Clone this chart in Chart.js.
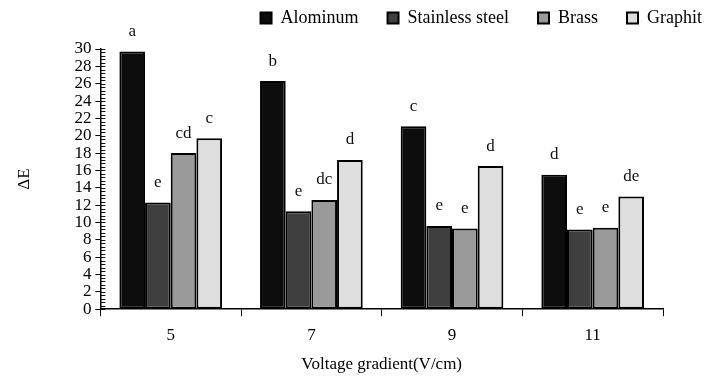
<!DOCTYPE html>
<html>
<head>
<meta charset="utf-8">
<script src="https://cdn.jsdelivr.net/npm/chart.js@4/dist/chart.umd.min.js"></script>
<style>
  html, body { margin: 0; padding: 0; background: #fff; }
  #wrap { width: 705px; height: 379px; }
</style>
</head>
<body>
<div id="wrap"><canvas id="c" width="705" height="379"></canvas></div>
<script>
const gradients = ["5", "7", "9", "11"];
const aluminum = [29.7, 26.3, 21.1, 15.5];
const stainless = [12.3, 11.3, 9.6, 9.2];
const brass = [18.0, 12.6, 9.3, 9.4];
const graphit = [19.7, 17.2, 16.5, 13.0];

const aluminumLetters = ["a", "b", "c", "d"];
const stainlessLetters = ["e", "e", "e", "e"];
const brassLetters = ["cd", "dc", "e", "e"];
const graphitLetters = ["c", "d", "d", "de"];

const serif = "'Liberation Serif', 'DejaVu Serif', serif";

// letters above each bar
const letterPlugin = {
    id: "letters",
    afterDatasetsDraw(chart) {
        const ctx = chart.ctx;
        ctx.save();
        ctx.font = "17px " + serif;
        ctx.fillStyle = "#111";
        ctx.textAlign = "center";
        ctx.textBaseline = "middle";
        chart.data.datasets.forEach((ds, i) => {
            chart.getDatasetMeta(i).data.forEach((bar, j) => {
                ctx.fillText(ds.letters[j], bar.x, bar.y - 20);
            });
        });
        ctx.restore();
    }
};

// small minor ticks inside the y axis
const minorTicks = {
    id: "minorTicks",
    afterDraw(chart) {
        const y = chart.scales.y;
        const ctx = chart.ctx;
        const x0 = chart.chartArea.left;
        ctx.save();
        ctx.strokeStyle = "#111";
        ctx.lineWidth = 1;
        for (let v = 0; v <= 30.001; v += 0.4) {
            const py = Math.round(y.getPixelForValue(v)) + 0.5;
            ctx.beginPath();
            ctx.moveTo(x0, py);
            ctx.lineTo(x0 + 5, py);
            ctx.stroke();
        }
        ctx.restore();
    }
};

// empty axes that only reserve white space
const spacer = (axis, position, size) => ({
    axis: axis,
    position: position,
    grid: { display: false },
    border: { display: false },
    ticks: { display: false },
    afterFit(scale) {
        if (axis === "y") scale.width = size;
        else scale.height = size;
    }
});

new Chart(document.getElementById("c"), {
    type: "bar",
    data: {
        labels: gradients,
        datasets: [
            { label: "Alominum", data: aluminum, letters: aluminumLetters, backgroundColor: "#0d0d0d" },
            { label: "Stainless steel", data: stainless, letters: stainlessLetters, backgroundColor: "#3f3f3f" },
            { label: "Brass", data: brass, letters: brassLetters, backgroundColor: "#9a9a9a" },
            { label: "Graphit", data: graphit, letters: graphitLetters, backgroundColor: "#dedede" }
        ].map(d => Object.assign(d, { borderColor: "#000", borderWidth: 2, borderSkipped: false }))
    },
    options: {
        responsive: false,
        animation: false,
        categoryPercentage: 0.73,
        barPercentage: 1.0,
        layout: { padding: { left: 10, right: -26, top: -20, bottom: 4 } },
        plugins: {
            tooltip: { enabled: false },
            legend: {
                position: "top",
                align: "end",
                labels: {
                    color: "#000",
                    font: { family: serif, size: 18 },
                    boxWidth: 11,
                    boxHeight: 11,
                    padding: 29
                }
            }
        },
        scales: {
            x: {
                grid: { display: true, drawOnChartArea: false, color: "#000", tickLength: 7, offset: true },
                border: { color: "#000", width: 1.5 },
                ticks: { color: "#000", font: { family: serif, size: 17 }, padding: 9 },
                title: { display: true, text: "Voltage gradient(V/cm)", color: "#000", font: { family: serif, size: 17 }, padding: { top: 0, bottom: 0 } }
            },
            y: {
                min: 0,
                max: 30,
                ticks: { stepSize: 2, autoSkip: false, color: "#000", font: { family: serif, size: 17 }, padding: 4 },
                grid: { drawOnChartArea: false, color: "#000", tickLength: 5 },
                border: { color: "#000", width: 1.5 },
                title: { display: true, text: "ΔE", color: "#000", font: { family: serif, size: 17 }, padding: { bottom: 36 } }
            },
            spareTop: spacer("x", "top", 12),
            spareRight: spacer("y", "right", 68)
        }
    },
    plugins: [letterPlugin, minorTicks]
});
</script>
</body>
</html>
